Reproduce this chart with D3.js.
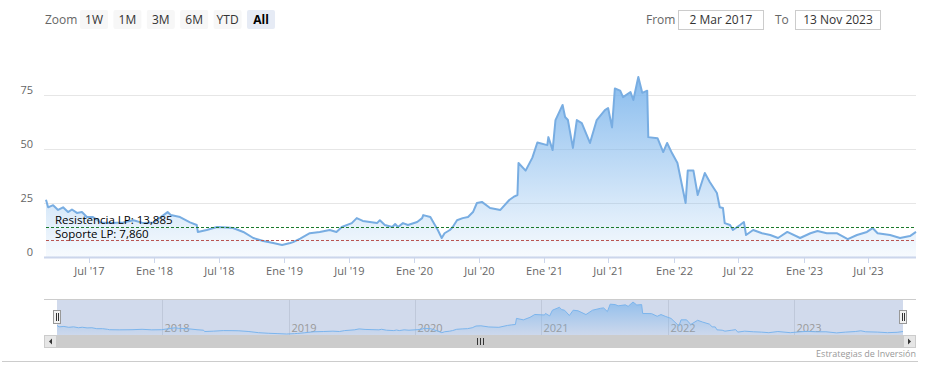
<!DOCTYPE html>
<meta charset="utf-8">
<script src="https://d3js.org/d3.v7.min.js"></script>
<style>
  body { margin: 0; background: #fff; }
  text { font-family: "Open Sans", "DejaVu Sans", sans-serif; }
</style>
<div id="chart"></div>
<script>
// ---- data ----
var dates = ["2017-03-02","2017-03-08","2017-03-22","2017-04-05","2017-04-19","2017-05-03","2017-05-14","2017-05-28","2017-06-11","2017-06-25",
  "2017-07-12","2017-07-26","2017-08-01","2017-08-29","2017-10-05","2017-11-03","2017-12-01","2017-12-29","2018-02-07","2018-02-16",
  "2018-03-14","2018-04-11","2018-04-30","2018-05-03","2018-05-28","2018-06-26","2018-07-24","2018-08-10","2018-09-08","2018-10-06",
  "2018-11-03","2018-12-01","2018-12-26","2019-01-18","2019-01-26","2019-02-15","2019-03-14","2019-04-11","2019-05-09","2019-05-28",
  "2019-06-12","2019-07-10","2019-07-24","2019-08-10","2019-08-30","2019-09-19","2019-09-27","2019-10-11","2019-11-01","2019-11-09",
  "2019-11-17","2019-12-01","2019-12-15","2020-01-10","2020-01-24","2020-01-27","2020-02-16","2020-02-24","2020-03-08","2020-03-19",
  "2020-03-27","2020-04-11","2020-04-19","2020-05-01","2020-05-17","2020-06-01","2020-06-15","2020-06-26","2020-07-10","2020-08-02",
  "2020-08-31","2020-09-25","2020-10-07","2020-10-18","2020-10-21","2020-11-10","2020-11-29","2020-12-13","2021-01-10","2021-01-13",
  "2021-01-25","2021-02-02","2021-02-22","2021-03-01","2021-03-09","2021-03-23","2021-04-03","2021-04-17","2021-05-10","2021-05-29",
  "2021-06-21","2021-06-30","2021-07-11","2021-07-19","2021-08-03","2021-08-11","2021-09-01","2021-09-09","2021-09-23","2021-10-04",
  "2021-10-18","2021-10-21","2021-11-16","2021-12-02","2021-12-13","2021-12-27","2022-01-11","2022-02-03","2022-02-09","2022-02-25",
  "2022-03-09","2022-03-29","2022-04-12","2022-05-02","2022-05-10","2022-05-19","2022-05-24","2022-06-08","2022-06-16","2022-07-06",
  "2022-07-17","2022-07-23","2022-08-12","2022-09-06","2022-09-29","2022-10-21","2022-11-16","2022-12-22","2023-01-20","2023-02-09",
  "2023-03-07","2023-04-04","2023-05-05","2023-05-31","2023-06-28","2023-07-14","2023-07-28","2023-09-01","2023-09-29","2023-10-27",
  "2023-11-13"];
var closes = [26.5,23,24,21.8,23,20.8,22,20.4,20.8,18.5,
  18.5,17,16,15.7,16,17,15.7,16,20.8,19.4,
  18.5,16,14.8,11.6,12.5,13.9,13.7,13.4,11.6,8.8,
  7.4,6.5,5.6,6.5,6.9,8.5,11,11.6,12.5,11.6,
  13.9,15.7,18,16.7,16.2,15.7,17,14.8,13.9,15.3,
  13.9,15.7,14.8,16.2,18,19.4,18.5,16.2,12.5,8.8,
  11,12.5,13.9,17,18,18.5,20.8,25,25.5,22.7,
  21.8,26.4,27.8,28.7,43.5,40,46,53,51.8,55.5,
  49.5,63.4,70.4,64.8,63.4,50.5,63.4,62,52.8,63.4,
  68,69,60,78,77,74,76.4,72.7,83.3,76,
  77,55.5,55,48.6,52.8,48,43.5,25,40,40,
  28.7,38.9,34.7,29.6,23,22.7,15.7,14.8,12.5,14.8,
  16.2,10.2,12.5,11,10.2,8.8,11.6,8.8,11,12,
  11,11,8.3,10.2,11.6,13.4,11,10.2,8.8,9.7,
  11.6];

var resistance = 13.885, support = 7.86;
var yTicks = [0, 25, 50, 75];
var xTickDates = ["2017-07-01","2018-01-01","2018-07-01","2019-01-01","2019-07-01","2020-01-01","2020-07-01",
  "2021-01-01","2021-07-01","2022-01-01","2022-07-01","2023-01-01","2023-07-01"];
var xTickLabels = ["Jul '17","Ene '18","Jul '18","Ene '19","Jul '19","Ene '20","Jul '20",
  "Ene '21","Jul '21","Ene '22","Jul '22","Ene '23","Jul '23"];
var navYears = ["2018","2019","2020","2021","2022","2023"];
var rangeButtons = ["1W","1M","3M","6M","YTD","All"];
var fromLabel = "2 Mar 2017", toLabel = "13 Nov 2023";

// ---- setup ----
var W = 931, H = 378;
var parse = d3.timeParse("%Y-%m-%d");
var data = dates.map(function(d, i) { return {date: parse(d), v: closes[i]}; });

var svg = d3.select("#chart").append("svg").attr("width", W).attr("height", H);

var defs = svg.append("defs");
var grad = defs.append("linearGradient").attr("id", "areaGrad")
  .attr("x1", 0).attr("y1", 0).attr("x2", 0).attr("y2", 1);
grad.append("stop").attr("offset", "0%").attr("stop-color", "#7cb5ec").attr("stop-opacity", 0.9);
grad.append("stop").attr("offset", "100%").attr("stop-color", "#7cb5ec").attr("stop-opacity", 0.06);

// main scales
var x = d3.scaleTime().domain(d3.extent(data, d => d.date)).range([46, 916]);
var y = d3.scaleLinear().domain([0, 75]).range([257, 95]);

// ---- range selector ----
svg.append("text").attr("x", 45).attr("y", 24).attr("fill", "#666")
  .style("font-size", "12px").text("Zoom");
rangeButtons.forEach(function(b, i) {
  var bx = 80 + i * 33.4;
  var sel = b === "All";
  svg.append("rect").attr("x", bx).attr("y", 10).attr("width", 28).attr("height", 19)
    .attr("rx", 2).attr("fill", sel ? "#e6ebf5" : "#f7f7f7");
  svg.append("text").attr("x", bx + 14).attr("y", 24).attr("text-anchor", "middle")
    .attr("fill", sel ? "#000" : "#333").style("font-size", "12px")
    .style("font-weight", sel ? "bold" : "normal").text(b);
});
svg.append("text").attr("x", 646).attr("y", 24).attr("fill", "#666").style("font-size", "12px").text("From");
svg.append("rect").attr("x", 678.5).attr("y", 10.5).attr("width", 85).attr("height", 19)
  .attr("fill", "#fff").attr("stroke", "#ccc");
svg.append("text").attr("x", 721).attr("y", 24).attr("text-anchor", "middle").attr("fill", "#333")
  .style("font-size", "12px").text(fromLabel);
svg.append("text").attr("x", 775).attr("y", 24).attr("fill", "#666").style("font-size", "12px").text("To");
svg.append("rect").attr("x", 795.5).attr("y", 10.5).attr("width", 85).attr("height", 19)
  .attr("fill", "#fff").attr("stroke", "#ccc");
svg.append("text").attr("x", 838).attr("y", 24).attr("text-anchor", "middle").attr("fill", "#333")
  .style("font-size", "12px").text(toLabel);

// ---- grid + y labels ----
yTicks.forEach(function(t) {
  var gy = Math.round(y(t)) + 0.5;
  svg.append("line").attr("x1", 44).attr("x2", 916).attr("y1", gy).attr("y2", gy)
    .attr("stroke", t === 0 ? "#ccd6eb" : "#e6e6e6").attr("stroke-width", t === 0 ? 2 : 1);
  svg.append("text").attr("x", 33).attr("y", gy - 2).attr("text-anchor", "end")
    .attr("fill", "#666").style("font-size", "11px").text(t);
});

// ---- area + line ----
var area = d3.area().x(d => x(d.date)).y0(y(0)).y1(d => y(d.v));
var line = d3.line().x(d => x(d.date)).y(d => y(d.v));
svg.append("path").datum(data).attr("d", area).attr("fill", "url(#areaGrad)");
svg.append("path").datum(data).attr("d", line).attr("fill", "none")
  .attr("stroke", "#78ade2").attr("stroke-width", 2).attr("stroke-linejoin", "round");

// ---- plot lines ----
[[resistance, "#1b7a2a", "Resistencia LP: 13,885", -4], [support, "#b85450", "Soporte LP: 7,860", -3]].forEach(function(p) {
  var py = Math.round(y(p[0])) + 0.5;
  svg.append("line").attr("x1", 46).attr("x2", 916).attr("y1", py).attr("y2", py)
    .attr("stroke", p[1]).attr("stroke-width", 1).attr("stroke-dasharray", "3,2");
  svg.append("text").attr("x", 55).attr("y", py + p[3]).attr("fill", "#000")
    .style("font-size", "11.5px").text(p[2]);
});

// ---- x axis ----
xTickDates.forEach(function(d, i) {
  var tx = Math.round(x(parse(d))) + 0.5;
  svg.append("line").attr("x1", tx).attr("x2", tx).attr("y1", 258).attr("y2", 263).attr("stroke", "#ccd6eb");
  svg.append("text").attr("x", tx).attr("y", 275).attr("text-anchor", "middle")
    .attr("fill", "#666").style("font-size", "11px").text(xTickLabels[i]);
});

// ---- navigator ----
var nx = d3.scaleTime().domain(x.domain()).range([57, 903]);
var ny = d3.scaleLinear().domain(d3.extent(closes)).range([334, 302]);
svg.append("rect").attr("x", 57).attr("y", 299).attr("width", 846).attr("height", 36).attr("fill", "#d1daec");
svg.append("line").attr("x1", 44).attr("x2", 916).attr("y1", 299.5).attr("y2", 299.5).attr("stroke", "#ccc");
navYears.forEach(function(yr) {
  var gx = Math.round(nx(parse(yr + "-01-01"))) + 0.5;
  svg.append("line").attr("x1", gx).attr("x2", gx).attr("y1", 300).attr("y2", 335).attr("stroke", "#bfc8da");
  svg.append("text").attr("x", gx + 2).attr("y", 332).attr("fill", "#999").style("font-size", "11px").text(yr);
});
var navArea = d3.area().x(d => nx(d.date)).y0(335).y1(d => ny(d.v));
var navLine = d3.line().x(d => nx(d.date)).y(d => ny(d.v));
svg.append("path").datum(data).attr("d", navArea).attr("fill", "url(#areaGrad)").attr("opacity", 0.8);
svg.append("path").datum(data).attr("d", navLine).attr("fill", "none").attr("stroke", "#7cb5ec").attr("stroke-width", 1);
[57, 903].forEach(function(hx) {
  svg.append("rect").attr("x", hx - 3.5).attr("y", 310.5).attr("width", 7).attr("height", 13)
    .attr("fill", "#f2f2f2").attr("stroke", "#999");
  [-1, 1].forEach(function(o) {
    svg.append("line").attr("x1", hx + o + 0.5).attr("x2", hx + o + 0.5).attr("y1", 313).attr("y2", 321).attr("stroke", "#333");
  });
});

// scrollbar
svg.append("rect").attr("x", 44).attr("y", 335).attr("width", 872).attr("height", 13).attr("fill", "#f2f2f2");
svg.append("rect").attr("x", 57).attr("y", 335).attr("width", 846).attr("height", 13).attr("fill", "#cccccc");
[44, 903].forEach(function(bx, i) {
  svg.append("rect").attr("x", bx + 0.5).attr("y", 335.5).attr("width", 12).attr("height", 12)
    .attr("fill", "#e6e6e6").attr("stroke", "#ccc");
  var cx = bx + 6.5, cy = 341.5;
  var pts = i === 0 ? [[cx + 1.5, cy - 3], [cx + 1.5, cy + 3], [cx - 1.5, cy]]
                    : [[cx - 1.5, cy - 3], [cx - 1.5, cy + 3], [cx + 1.5, cy]];
  svg.append("path").attr("d", "M" + pts.join("L") + "Z").attr("fill", "#333");
});
[-3, 0, 3].forEach(function(o) {
  svg.append("line").attr("x1", 480.5 + o).attr("x2", 480.5 + o).attr("y1", 338).attr("y2", 345).attr("stroke", "#333");
});

// bottom border + credit
svg.append("line").attr("x1", 2).attr("x2", 918).attr("y1", 361.5).attr("y2", 361.5).attr("stroke", "#ccc");
svg.append("text").attr("x", 916).attr("y", 357).attr("text-anchor", "end").attr("fill", "#999")
  .style("font-size", "9px").text("Estrategias de Inversión");
</script>
